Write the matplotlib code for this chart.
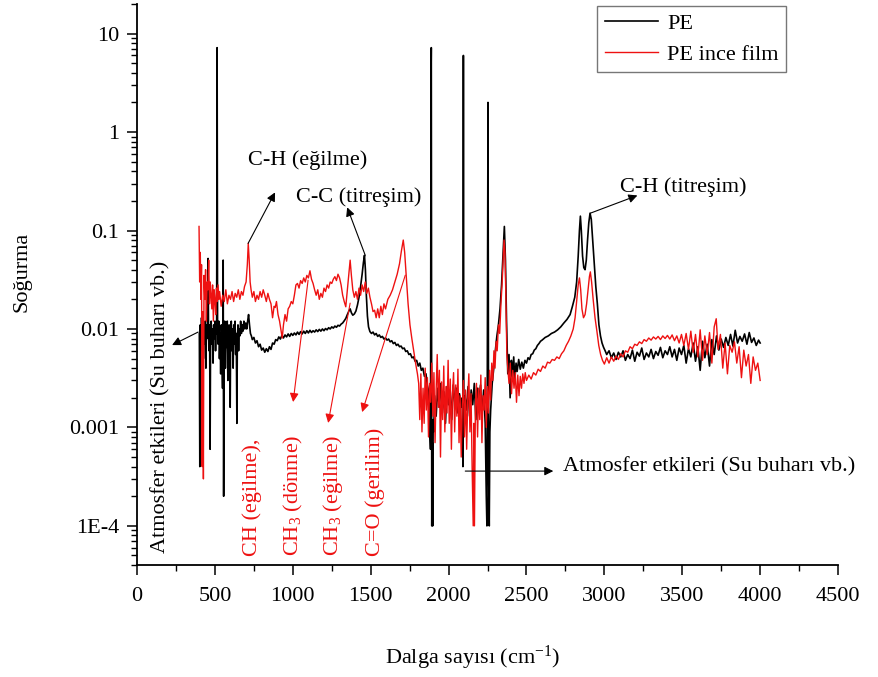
import numpy as np
import matplotlib

matplotlib.use("Agg")
import matplotlib.pyplot as plt
from matplotlib.ticker import FixedLocator, FixedFormatter, MultipleLocator, LogLocator, NullFormatter

plt.rcParams['font.family'] = ['Liberation Serif', 'DejaVu Serif']
plt.rcParams['mathtext.fontset'] = 'custom'
plt.rcParams['mathtext.rm'] = 'Liberation Serif'
plt.rcParams['mathtext.it'] = 'Liberation Serif:italic'

# ========== DATA ==========
pe_wavenumber = [
    400, 403, 406, 410, 414, 418, 422, 426, 430, 434,
    438, 442, 446, 450, 453, 456, 459, 463, 466, 469,
    472, 476, 480, 484, 488, 492, 496, 500, 504, 508,
    511, 514, 517, 521, 525, 529, 533, 537, 541, 545,
    549, 553, 556, 559, 563, 567, 571, 575, 579, 583,
    587, 591, 595, 598, 601, 605, 609, 613, 617, 621,
    625, 629, 633, 637, 641, 644, 648, 652, 656, 660,
    665, 670, 675, 680, 686, 692, 698, 704, 710, 716,
    722, 728, 734, 740, 750, 760, 770, 780, 790, 800,
    810, 820, 830, 840, 850, 860, 870, 880, 890, 900,
    910, 920, 930, 940, 950, 960, 970, 980, 990, 1000,
    1010, 1020, 1030, 1040, 1050, 1060, 1070, 1080, 1090, 1100,
    1110, 1120, 1130, 1140, 1150, 1160, 1170, 1180, 1190, 1200,
    1210, 1220, 1230, 1240, 1250, 1260, 1270, 1280, 1290, 1300,
    1310, 1320, 1330, 1340, 1350, 1360, 1368, 1376, 1385, 1395,
    1405, 1415, 1425, 1435, 1445, 1453, 1460, 1466, 1472, 1479,
    1486, 1495, 1505, 1515, 1525, 1535, 1545, 1555, 1565, 1575,
    1585, 1595, 1605, 1615, 1625, 1635, 1645, 1655, 1665, 1675,
    1685, 1695, 1705, 1715, 1725, 1735, 1745, 1755, 1765, 1775,
    1785, 1795, 1805, 1815, 1825, 1835, 1845, 1855, 1863, 1870,
    1876, 1880, 1884, 1887, 1889, 1892, 1895, 1898, 1901, 1905,
    1910, 1920, 1930, 1940, 1950, 1960, 1970, 1980, 1990, 2000,
    2010, 2020, 2030, 2040, 2050, 2060, 2070, 2080, 2088, 2092,
    2095, 2098, 2105, 2115, 2125, 2135, 2145, 2155, 2165, 2175,
    2185, 2195, 2205, 2215, 2225, 2235, 2242, 2246, 2250, 2253,
    2257, 2261, 2265, 2270, 2280, 2290, 2300, 2310, 2320, 2330,
    2340, 2350, 2358, 2365, 2372, 2380, 2388, 2395, 2403, 2410,
    2418, 2425, 2433, 2440, 2450, 2460, 2470, 2480, 2490, 2500,
    2510, 2520, 2530, 2540, 2550, 2560, 2570, 2580, 2590, 2600,
    2620, 2640, 2660, 2680, 2700, 2720, 2740, 2760, 2780, 2795,
    2810, 2822, 2832, 2840, 2846, 2852, 2860, 2868, 2876, 2884,
    2892, 2900, 2908, 2916, 2925, 2935, 2945, 2955, 2965, 2975,
    2985, 2995, 3005, 3015, 3030, 3045, 3060, 3075, 3090, 3105,
    3120, 3135, 3150, 3165, 3180, 3195, 3210, 3225, 3240, 3255,
    3270, 3285, 3300, 3315, 3330, 3345, 3360, 3375, 3390, 3405,
    3420, 3435, 3450, 3465, 3480, 3495, 3510, 3525, 3540, 3555,
    3570, 3585, 3600, 3615, 3630, 3645, 3660, 3675, 3690, 3705,
    3720, 3735, 3750, 3765, 3780, 3795, 3810, 3825, 3840, 3855,
    3870, 3885, 3900, 3915, 3930, 3945, 3960, 3975, 3990, 4000,
]
pe_absorbance = [
    0.009, 0.0004, 0.011, 0.006, 0.013, 0.008, 0.012, 0.005, 0.010, 0.007,
    0.012, 0.004, 0.011, 0.008, 0.013, 0.052, 0.009, 0.006, 0.011, 0.0006,
    0.008, 0.012, 0.007, 0.010, 0.0045, 0.011, 0.008, 0.012, 0.006, 0.010,
    0.009, 7.2, 0.011, 0.007, 0.012, 0.005, 0.009, 0.0035, 0.011, 0.006,
    0.0025, 0.050, 0.0002, 0.008, 0.012, 0.004, 0.010, 0.0065, 0.012, 0.003,
    0.009, 0.011, 0.005, 0.0016, 0.009, 0.012, 0.006, 0.010, 0.004, 0.011,
    0.007, 0.012, 0.0055, 0.009, 0.0011, 0.008, 0.011, 0.006, 0.010, 0.0085,
    0.012, 0.009, 0.011, 0.0095, 0.012, 0.010, 0.0115, 0.010, 0.012, 0.014,
    0.011, 0.009, 0.0085, 0.0078, 0.0082, 0.0072, 0.0076, 0.0066, 0.0070, 0.0061,
    0.0064, 0.0058, 0.0063, 0.0059, 0.0066, 0.0062, 0.0072, 0.0070, 0.0078, 0.0076,
    0.0083, 0.0079, 0.0086, 0.0081, 0.0087, 0.0083, 0.0089, 0.0084, 0.0090, 0.0086,
    0.0091, 0.0087, 0.0093, 0.0088, 0.0094, 0.0089, 0.0095, 0.0090, 0.0096, 0.0091,
    0.0097, 0.0092, 0.0096, 0.0093, 0.0098, 0.0094, 0.0099, 0.0095, 0.0100, 0.0096,
    0.0101, 0.0098, 0.0103, 0.0100, 0.0105, 0.0102, 0.0107, 0.0104, 0.0109, 0.0107,
    0.0112, 0.0115, 0.0121, 0.0128, 0.0140, 0.0152, 0.0160, 0.0146, 0.0138, 0.0142,
    0.0152, 0.0175, 0.021, 0.027, 0.036, 0.047, 0.056, 0.040, 0.022, 0.0135,
    0.0105, 0.0094, 0.0090, 0.0093, 0.0087, 0.0090, 0.0084, 0.0087, 0.0082, 0.0084,
    0.0079, 0.0081, 0.0077, 0.0079, 0.0074, 0.0076, 0.0071, 0.0073, 0.0068, 0.0070,
    0.0066, 0.0067, 0.0063, 0.0064, 0.0059, 0.0060, 0.0055, 0.0056, 0.0051, 0.0052,
    0.0047, 0.0048, 0.0042, 0.0045, 0.0038, 0.0040, 0.0033, 0.0035, 0.0027, 0.0024,
    0.0015, 0.0009, 0.0006, 3.3, 7.2, 0.0001, 0.0007, 0.0001, 0.0012, 0.0009,
    0.0021, 0.0013, 0.0025, 0.0016, 0.0028, 0.0014, 0.0023, 0.0011, 0.0026, 0.0017,
    0.0024, 0.0012, 0.0027, 0.0018, 0.0025, 0.0014, 0.0022, 0.0016, 0.0020, 0.0004,
    6.0, 0.0009, 0.0021, 0.0015, 0.0026, 0.0013, 0.0024, 0.0017, 0.0028, 0.0012,
    0.0025, 0.0019, 0.0027, 0.0014, 0.0024, 0.0011, 0.0002, 0.0001, 0.040, 2.0,
    0.0003, 0.0001, 0.0009, 0.0015, 0.0028, 0.0040, 0.0060, 0.0085, 0.011, 0.016,
    0.028, 0.060, 0.110, 0.050, 0.012, 0.0035, 0.0055, 0.0020, 0.0048, 0.0033,
    0.0052, 0.0030, 0.0045, 0.0037, 0.0049, 0.0039, 0.0046, 0.0040, 0.0048, 0.0045,
    0.0051, 0.0049, 0.0055, 0.0056, 0.0061, 0.0063, 0.0068, 0.0071, 0.0075, 0.0077,
    0.0082, 0.0085, 0.0090, 0.0093, 0.0098, 0.0105, 0.0115, 0.0125, 0.0140, 0.0170,
    0.021, 0.030, 0.055, 0.100, 0.140, 0.100, 0.055, 0.042, 0.040, 0.050,
    0.080, 0.120, 0.150, 0.130, 0.080, 0.045, 0.027, 0.018, 0.011, 0.0085,
    0.0072, 0.0065, 0.0060, 0.0055, 0.0060, 0.0051, 0.0057, 0.0049, 0.0058, 0.0052,
    0.0060, 0.0048, 0.0055, 0.0050, 0.0061, 0.0047, 0.0058, 0.0053, 0.0064, 0.0049,
    0.0057, 0.0052, 0.0062, 0.0050, 0.0059, 0.0054, 0.0065, 0.0051, 0.0060, 0.0055,
    0.0066, 0.0052, 0.0062, 0.0048, 0.0064, 0.0055, 0.0068, 0.0045, 0.0063, 0.0052,
    0.0072, 0.0047, 0.0066, 0.0038, 0.0075, 0.0051, 0.0070, 0.0042, 0.0078, 0.0055,
    0.0085, 0.0061, 0.0079, 0.0065, 0.0082, 0.0068, 0.0088, 0.0067, 0.0097, 0.0072,
    0.0084, 0.0075, 0.0089, 0.0070, 0.0092, 0.0073, 0.0081, 0.0068, 0.0077, 0.0072,
]

film_wavenumber = [
    398, 402, 406, 410, 414, 418, 422, 426, 430, 435,
    440, 445, 450, 455, 460, 465, 470, 475, 480, 485,
    490, 495, 500, 505, 510, 515, 520, 525, 530, 540,
    550, 560, 570, 580, 590, 600, 610, 620, 630, 640,
    650, 660, 670, 680, 690, 700, 708, 714, 720, 726,
    732, 740, 750, 760, 770, 780, 790, 800, 810, 820,
    830, 840, 850, 860, 870, 880, 887, 895, 905, 915,
    925, 932, 940, 950, 960, 970, 980, 990, 1000, 1010,
    1020, 1030, 1040, 1050, 1060, 1070, 1080, 1090, 1100, 1110,
    1120, 1130, 1140, 1150, 1160, 1170, 1180, 1190, 1200, 1210,
    1220, 1230, 1240, 1250, 1260, 1270, 1280, 1290, 1300, 1310,
    1320, 1330, 1340, 1350, 1360, 1368, 1376, 1385, 1395, 1405,
    1415, 1425, 1435, 1445, 1455, 1465, 1475, 1485, 1495, 1505,
    1515, 1525, 1535, 1545, 1555, 1565, 1575, 1585, 1595, 1610,
    1625, 1640, 1655, 1670, 1685, 1697, 1709, 1718, 1728, 1740,
    1752, 1764, 1776, 1788, 1800, 1808, 1815, 1822, 1829, 1836,
    1843, 1850, 1857, 1864, 1871, 1878, 1885, 1892, 1899, 1906,
    1913, 1920, 1927, 1934, 1941, 1948, 1955, 1962, 1969, 1976,
    1983, 1990, 1997, 2004, 2011, 2018, 2025, 2032, 2039, 2046,
    2053, 2060, 2067, 2074, 2081, 2088, 2095, 2102, 2109, 2116,
    2123, 2130, 2137, 2144, 2151, 2158, 2162, 2166, 2172, 2179,
    2186, 2193, 2200, 2207, 2214, 2221, 2228, 2235, 2242, 2249,
    2256, 2263, 2270, 2277, 2284, 2291, 2298, 2305, 2312, 2320,
    2328, 2336, 2344, 2350, 2356, 2362, 2368, 2374, 2380, 2388,
    2396, 2404, 2412, 2420, 2428, 2436, 2444, 2452, 2460, 2468,
    2476, 2484, 2492, 2500, 2515, 2530, 2545, 2560, 2575, 2590,
    2605, 2620, 2635, 2650, 2665, 2680, 2695, 2710, 2725, 2740,
    2755, 2770, 2785, 2800, 2812, 2822, 2832, 2840, 2848, 2856,
    2866, 2876, 2886, 2896, 2904, 2910, 2918, 2928, 2940, 2952,
    2964, 2976, 2988, 3000, 3015, 3030, 3045, 3060, 3075, 3090,
    3105, 3120, 3135, 3150, 3165, 3180, 3195, 3210, 3225, 3240,
    3255, 3270, 3285, 3300, 3315, 3330, 3345, 3360, 3375, 3390,
    3405, 3420, 3435, 3450, 3465, 3480, 3495, 3510, 3525, 3540,
    3555, 3570, 3585, 3600, 3615, 3630, 3645, 3660, 3675, 3690,
    3705, 3718, 3730, 3745, 3760, 3775, 3790, 3805, 3820, 3835,
    3850, 3865, 3880, 3895, 3910, 3925, 3940, 3955, 3970, 3985, 4000,
]
film_absorbance = [
    0.110, 0.030, 0.060, 0.020, 0.045, 0.0004, 0.015, 0.0003, 0.035, 0.020,
    0.040, 0.012, 0.030, 0.025, 0.050, 0.018, 0.030, 0.022, 0.016, 0.028,
    0.012, 0.025, 0.020, 0.014, 0.026, 0.019, 0.028, 0.020, 0.024, 0.017,
    0.022, 0.019, 0.025, 0.018, 0.022, 0.020, 0.024, 0.019, 0.023, 0.021,
    0.025, 0.020, 0.024, 0.022, 0.027, 0.030, 0.045, 0.074, 0.050, 0.030,
    0.025, 0.021, 0.024, 0.019, 0.022, 0.020, 0.024, 0.021, 0.025, 0.022,
    0.019, 0.023, 0.020, 0.018, 0.013, 0.017, 0.0165, 0.019, 0.014, 0.012,
    0.0095, 0.0081, 0.011, 0.014, 0.012, 0.016, 0.017, 0.019, 0.018, 0.022,
    0.028, 0.029, 0.026, 0.031, 0.029, 0.033, 0.030, 0.035, 0.033, 0.039,
    0.032, 0.029, 0.025, 0.022, 0.025, 0.020, 0.023, 0.021, 0.026, 0.024,
    0.028, 0.026, 0.030, 0.029, 0.032, 0.034, 0.031, 0.036, 0.033, 0.028,
    0.022, 0.019, 0.0168, 0.025, 0.038, 0.050, 0.035, 0.025, 0.021, 0.024,
    0.020, 0.026, 0.022, 0.028, 0.024, 0.030, 0.023, 0.026, 0.021, 0.018,
    0.015, 0.0155, 0.013, 0.016, 0.013, 0.017, 0.014, 0.018, 0.016, 0.020,
    0.022, 0.025, 0.030, 0.036, 0.046, 0.062, 0.080, 0.060, 0.035, 0.018,
    0.011, 0.008, 0.006, 0.0045, 0.0035, 0.0028, 0.0012, 0.0035, 0.0009, 0.0025,
    0.0011, 0.0040, 0.0015, 0.0032, 0.0008, 0.0028, 0.0018, 0.0045, 0.0013, 0.0036,
    0.0007, 0.0024, 0.0055, 0.0016, 0.0038, 0.0005, 0.0029, 0.0012, 0.0042, 0.0009,
    0.0026, 0.0014, 0.0048, 0.0011, 0.0031, 0.0006, 0.0022, 0.0036, 0.0009, 0.0027,
    0.0013, 0.0039, 0.0007, 0.0021, 0.0005, 0.0017, 0.0030, 0.0008, 0.0024, 0.0006,
    0.0019, 0.0035, 0.0009, 0.0022, 0.0004, 0.0001, 0.0011, 0.0001, 0.0016, 0.0028,
    0.0008, 0.0025, 0.0012, 0.0034, 0.0007, 0.0021, 0.0015, 0.0032, 0.0010, 0.0026,
    0.0014, 0.0038, 0.0019, 0.0045, 0.0030, 0.0060, 0.0040, 0.0075, 0.0060, 0.011,
    0.009, 0.018, 0.030, 0.050, 0.080, 0.060, 0.020, 0.0055, 0.0040, 0.0028,
    0.0045, 0.0022, 0.0038, 0.0025, 0.0036, 0.0018, 0.0034, 0.0021, 0.0033, 0.0025,
    0.0035, 0.0028, 0.0036, 0.0030, 0.0034, 0.0031, 0.0036, 0.0034, 0.0039, 0.0037,
    0.0042, 0.0040, 0.0046, 0.0045, 0.0049, 0.0048, 0.0052, 0.0050, 0.0056, 0.0060,
    0.0068, 0.0075, 0.0085, 0.010, 0.013, 0.019, 0.028, 0.033, 0.025, 0.016,
    0.013, 0.014, 0.018, 0.026, 0.034, 0.038, 0.030, 0.020, 0.013, 0.0095,
    0.0068, 0.0055, 0.0048, 0.0044, 0.0051, 0.0045, 0.0052, 0.0047, 0.0053, 0.0049,
    0.0056, 0.0052, 0.0060, 0.0058, 0.0066, 0.0063, 0.0070, 0.0068, 0.0074, 0.0071,
    0.0078, 0.0075, 0.0081, 0.0077, 0.0083, 0.0079, 0.0084, 0.0078, 0.0085, 0.0080,
    0.0086, 0.0079, 0.0087, 0.0076, 0.0085, 0.0072, 0.0088, 0.0068, 0.0090, 0.0062,
    0.0095, 0.0058, 0.0088, 0.0052, 0.0098, 0.0048, 0.0085, 0.0055, 0.0092, 0.0045,
    0.0105, 0.0127, 0.0062, 0.0088, 0.0040, 0.0072, 0.0035, 0.0068, 0.0058, 0.0074,
    0.0045, 0.0066, 0.0032, 0.0061, 0.0042, 0.0055, 0.0028, 0.0052, 0.0038, 0.0045, 0.0030,
]

y_ticks = [1e-4, 1e-3, 1e-2, 1e-1, 1, 10]
y_tick_labels = ['1E-4', '0.001', '0.01', '0.1', '1', '10']

# ========== FIGURE ==========
fig = plt.figure(figsize=(8.79, 6.77), dpi=100)
ax = fig.add_axes([0.1559, 0.1654, 0.7975, 0.8287])

ax.plot(pe_wavenumber, pe_absorbance, color='black', lw=1.2, label='PE')
ax.plot(film_wavenumber, film_absorbance, color='#ee1111', lw=1.0, label='PE ince film')

ax.set_yscale('log')
ax.set_xlim(0, 4500)
ax.set_ylim(4e-5, 20)

ax.xaxis.set_major_locator(MultipleLocator(500))
ax.xaxis.set_minor_locator(MultipleLocator(250))
ax.yaxis.set_major_locator(FixedLocator(y_ticks))
ax.yaxis.set_major_formatter(FixedFormatter(y_tick_labels))
ax.yaxis.set_minor_locator(LogLocator(base=10, subs=np.arange(2, 10), numticks=20))
ax.yaxis.set_minor_formatter(NullFormatter())

for side in ['top', 'right']:
    ax.spines[side].set_visible(False)
for side in ['left', 'bottom']:
    ax.spines[side].set_linewidth(1.3)

ax.tick_params(which='major', direction='out', length=7, width=1.1, labelsize=16)
ax.tick_params(which='minor', direction='out', length=4, width=1.0)
ax.tick_params(axis='x', which='major', pad=9)
ax.tick_params(axis='y', which='major', pad=6)

ax.set_xlabel('Dalga sayısı (cm$^{-1}$)', fontsize=16)
ax.set_ylabel('Soğurma', fontsize=16)
ax.xaxis.set_label_coords(0.479, -0.14)
ax.yaxis.set_label_coords(-0.15, 0.522)

leg = ax.legend(loc='upper right', bbox_to_anchor=(0.926, 0.997), fontsize=16,
                frameon=True, fancybox=False, handlelength=2.4, handletextpad=0.4,
                borderpad=0.35, labelspacing=0.45, borderaxespad=0)
leg.get_frame().set_edgecolor('#555555')
leg.get_frame().set_linewidth(1.0)

# ========== ANNOTATIONS ==========
black_arrow = dict(arrowstyle='-|>', color='black', lw=0.8, mutation_scale=13,
                   shrinkA=0, shrinkB=0)
red_arrow = dict(arrowstyle='-|>', color='#ee1111', lw=0.8, mutation_scale=13,
                 shrinkA=0, shrinkB=0)

ax.text(713, 0.515, 'C-H (eğilme)', fontsize=16, ha='left', va='center')
ax.annotate('', xy=(886, 0.244), xytext=(713, 0.074), arrowprops=black_arrow)

ax.text(1021, 0.217, 'C-C (titreşim)', fontsize=16, ha='left', va='center')
ax.annotate('', xy=(1349, 0.172), xytext=(1465, 0.056), arrowprops=black_arrow)

ax.text(3103, 0.274, 'C-H (titreşim)', fontsize=16, ha='left', va='center')
ax.annotate('', xy=(3212, 0.227), xytext=(2910, 0.15), arrowprops=black_arrow)

ax.text(154, 0.00161, 'Atmosfer etkileri (Su buharı vb.)', fontsize=16,
        rotation=90, ha='center', va='center')
ax.annotate('', xy=(225, 0.00686), xytext=(392, 0.0093), arrowprops=black_arrow)

ax.text(2737, 0.000396, 'Atmosfer etkileri (Su buharı vb.)', fontsize=16,
        ha='left', va='center')
ax.annotate('', xy=(2672, 0.00036), xytext=(2107, 0.00036), arrowprops=black_arrow)

red_labels = ['CH (eğilme),', 'CH$_3$ (dönme)', 'CH$_3$ (eğilme)', 'C=O (gerilim)']
red_label_x = [740, 1003, 1260, 1530]
for label, xpos in zip(red_labels, red_label_x):
    ax.text(xpos, 4.9e-5, label, fontsize=16, color='#ee1111', rotation=90,
            ha='center', va='bottom')

ax.annotate('', xy=(1002, 0.00181), xytext=(1098, 0.0313), arrowprops=red_arrow)
ax.annotate('', xy=(1227, 0.00111), xytext=(1368, 0.0183), arrowprops=red_arrow)
ax.annotate('', xy=(1445, 0.00143), xytext=(1722, 0.0352), arrowprops=red_arrow)

fig.savefig('out.png', dpi=100)
